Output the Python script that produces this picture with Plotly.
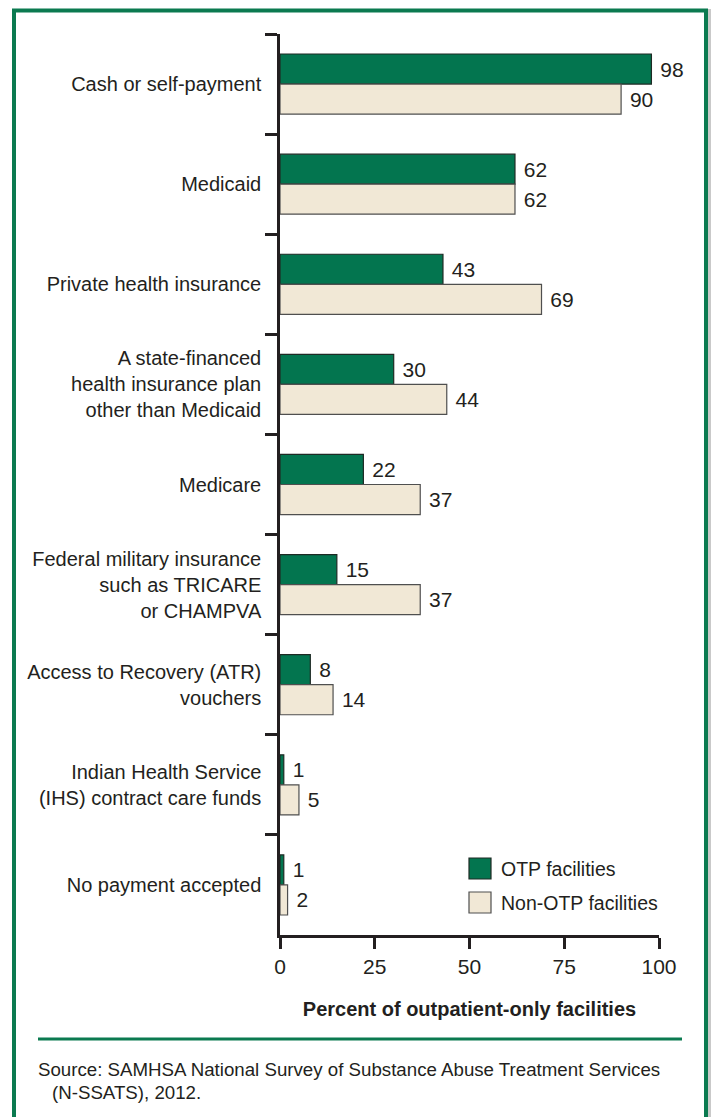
import plotly.graph_objects as go

# Payment sources accepted, outpatient-only facilities (percent)
categories = [
    "Cash or self-payment",
    "Medicaid",
    "Private health insurance",
    "A state-financed<br>health insurance plan<br>other than Medicaid",
    "Medicare",
    "Federal military insurance<br>such as TRICARE<br>or CHAMPVA",
    "Access to Recovery (ATR)<br>vouchers",
    "Indian Health Service<br>(IHS) contract care funds",
    "No payment accepted",
]
otp_values = [98, 62, 43, 30, 22, 15, 8, 1, 1]
non_otp_values = [90, 62, 69, 44, 37, 37, 14, 5, 2]
series_names = ["OTP facilities", "Non-OTP facilities"]
x_ticks = [0, 25, 50, 75, 100]

W, H = 711, 1117
ML, MR, MT, MB = 280, 52, 34, 182
PW, PH = W - ML - MR, H - MT - MB

GREEN = "#03754F"
FRAME = "#0B7A50"
BEIGE = "#F1E8D6"
INK = "#231F20"
FONT = "Liberation Sans, Arial, sans-serif"


def px(x):
    return (x - ML) / PW


def py(y):
    return 1 - (y - MT) / PH


fig = go.Figure()
fig.add_trace(go.Bar(
    name=series_names[0], y=categories, x=otp_values, orientation="h",
    marker=dict(color=GREEN, line=dict(color="#1E2A24", width=1.2)),
    text=otp_values, texttemplate="\u00a0%{x}", textposition="outside",
    textfont=dict(family=FONT, size=21, color=INK), cliponaxis=False,
))
fig.add_trace(go.Bar(
    name=series_names[1], y=categories, x=non_otp_values, orientation="h",
    marker=dict(color=BEIGE, line=dict(color="#4F4F4F", width=1.2)),
    text=non_otp_values, texttemplate="\u00a0%{x}", textposition="outside",
    textfont=dict(family=FONT, size=21, color=INK), cliponaxis=False,
))

shapes = []
annotations = []

# outer frame
shapes.append(dict(type="line", xref="paper", yref="paper",
                   x0=px(12), x1=px(708), y0=py(10.5), y1=py(10.5),
                   line=dict(color=FRAME, width=4)))
shapes.append(dict(type="line", xref="paper", yref="paper",
                   x0=px(14), x1=px(14), y0=py(9), y1=py(H + 2),
                   line=dict(color=FRAME, width=4)))
shapes.append(dict(type="line", xref="paper", yref="paper",
                   x0=px(706), x1=px(706), y0=py(9), y1=py(H + 2),
                   line=dict(color=FRAME, width=4)))
shapes.append(dict(type="line", xref="paper", yref="paper",
                   x0=px(709.5), x1=px(709.5), y0=py(9), y1=py(H + 2),
                   line=dict(color="#C9C9C9", width=3)))

# rule above the source note
shapes.append(dict(type="line", xref="paper", yref="paper",
                   x0=px(38), x1=px(682), y0=py(1039), y1=py(1039),
                   line=dict(color=FRAME, width=3)))

# legend swatches and labels
legend_colors = [(GREEN, "#1E2A24"), (BEIGE, "#4F4F4F")]
for i, (name, (fill, edge)) in enumerate(zip(series_names, legend_colors)):
    top = 858 + i * 34
    shapes.append(dict(type="rect", xref="paper", yref="paper",
                       x0=px(469), x1=px(491), y0=py(top), y1=py(top + 21),
                       fillcolor=fill, line=dict(color=edge, width=1.2)))
    annotations.append(dict(text=name, xref="paper", yref="paper",
                            x=px(499), y=py(top + 10.5), xanchor="left",
                            yanchor="middle", showarrow=False,
                            font=dict(family=FONT, size=19.5, color=INK)))

# source note
annotations.append(dict(
    text="Source: SAMHSA National Survey of Substance Abuse Treatment Services",
    xref="paper", yref="paper", x=px(36), y=py(1069), xanchor="left",
    yanchor="middle", showarrow=False,
    font=dict(family=FONT, size=18.7, color=INK)))
annotations.append(dict(
    text="(N-SSATS), 2012.",
    xref="paper", yref="paper", x=px(50), y=py(1092), xanchor="left",
    yanchor="middle", showarrow=False,
    font=dict(family=FONT, size=18.7, color=INK)))

fig.update_layout(
    width=W, height=H,
    margin=dict(l=ML, r=MR, t=MT, b=MB, autoexpand=False),
    paper_bgcolor="white", plot_bgcolor="white",
    barmode="group", bargap=0.4, bargroupgap=0,
    showlegend=False,
    shapes=shapes, annotations=annotations,
    font=dict(family=FONT, color=INK),
)
fig.update_yaxes(
    type="category", range=[8.5, -0.5], tickson="boundaries",
    showline=True, linecolor=INK, linewidth=2.5,
    ticks="outside", ticklen=12, tickwidth=2.5, tickcolor=INK,
    tickfont=dict(family=FONT, size=20, color=INK),
    showgrid=False, zeroline=False, ticklabelstandoff=12, automargin=False,
)
fig.update_xaxes(
    range=[0, 100], tickvals=x_ticks,
    showline=True, linecolor=INK, linewidth=2.5,
    ticks="outside", ticklen=11, tickwidth=2.5, tickcolor=INK,
    tickfont=dict(family=FONT, size=21, color=INK),
    showgrid=False, zeroline=False, automargin=False,
    title=dict(text="<b>Percent of outpatient-only facilities</b>",
               font=dict(family=FONT, size=20, color=INK), standoff=26),
)

fig.write_html("out.html")
